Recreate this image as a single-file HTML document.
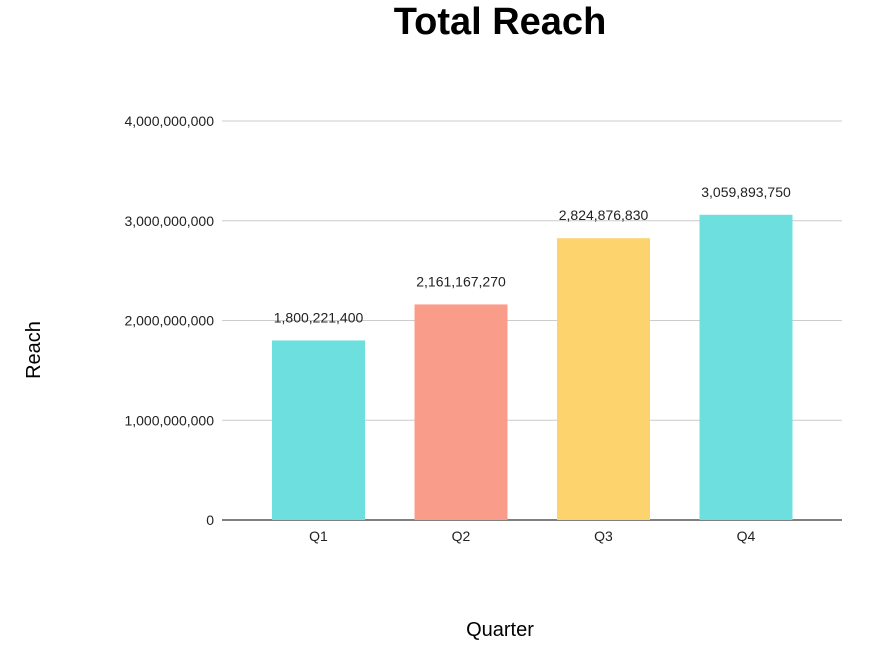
<!DOCTYPE html>
<html><head><meta charset="utf-8"><style>
html,body{margin:0;padding:0;background:#fff;}
svg{display:block;font-family:"Liberation Sans",Arial,sans-serif;}
</style></head><body>
<svg id="chart" width="884" height="656" viewBox="0 0 884 656" xmlns="http://www.w3.org/2000/svg">
<text x="500" y="34" text-anchor="middle" font-size="38" font-weight="bold" fill="#000">Total Reach</text>
<g id="grid"></g>
<g id="bars"></g>
<text transform="translate(40,350) rotate(-90)" text-anchor="middle" font-size="20" fill="#000">Reach</text>
<text x="500" y="636" text-anchor="middle" font-size="20" fill="#000">Quarter</text>
</svg>
<script>
const categories = ["Q1","Q2","Q3","Q4"];
const values = [1800221400, 2161167270, 2824876830, 3059893750];
const valueLabels = ["1,800,221,400","2,161,167,270","2,824,876,830","3,059,893,750"];
const yTicks = [0, 1000000000, 2000000000, 3000000000, 4000000000];
const yTickLabels = ["0","1,000,000,000","2,000,000,000","3,000,000,000","4,000,000,000"];
const colors = ["#6edfdf","#f99c8a","#fcd36d","#6edfdf"];

const NS = "http://www.w3.org/2000/svg";
const y0 = 520, yTop = 121, yMax = 4000000000;
const xLeft = 222, xRight = 842;
const bandStart = 247.25, step = 142.5, barW = 93;
function yScale(v){ return y0 - (v / yMax) * (y0 - yTop); }
function xCenter(i){ return bandStart + step * (i + 0.5); }
function mk(tag, attrs, parent){
  const e = document.createElementNS(NS, tag);
  for (const k in attrs) e.setAttribute(k, attrs[k]);
  parent.appendChild(e); return e;
}
const grid = document.getElementById("grid");
yTicks.forEach((t, i) => {
  const y = yScale(t);
  const ln = mk("line", {x1: xLeft, x2: xRight, y1: y, y2: y, stroke: i === 0 ? "#333" : "#ccc", "stroke-width": i === 0 ? 1.2 : 1}, grid);
  
  
  const tx = mk("text", {x: 214, y: y + 5, "text-anchor": "end", "font-size": 14, fill: "#222"}, grid);
  tx.textContent = yTickLabels[i];
  
  
});
const bars = document.getElementById("bars");
categories.forEach((c, i) => {
  const cx = xCenter(i), yt = yScale(values[i]);
  const r = mk("rect", {x: cx - barW/2, y: yt, width: barW, height: y0 - yt, fill: colors[i]}, bars);
  
  
  const lb = mk("text", {x: cx, y: yt - 18, "text-anchor": "middle", "font-size": 14, fill: "#222"}, bars);
  lb.textContent = valueLabels[i];
  
  
  const xt = mk("text", {x: cx, y: 541, "text-anchor": "middle", "font-size": 14, fill: "#222"}, bars);
  xt.textContent = c;
  
  
});
</script>
</body></html>
